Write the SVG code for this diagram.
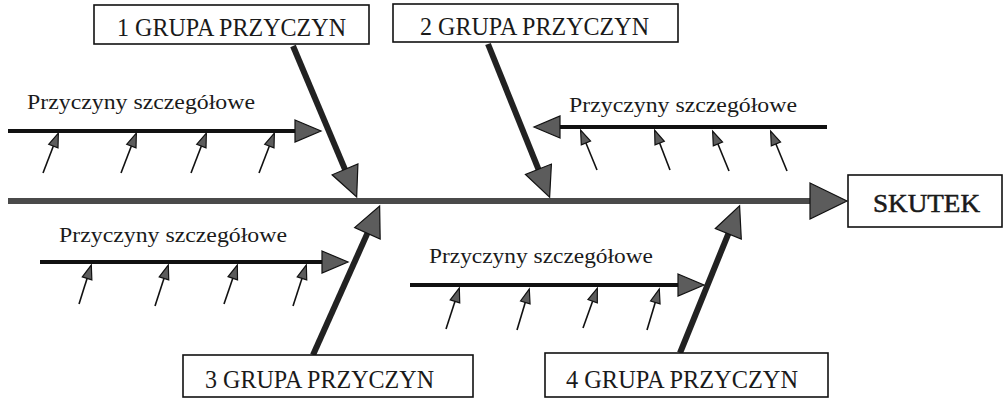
<svg xmlns="http://www.w3.org/2000/svg" width="1008" height="399" viewBox="0 0 1008 399">
<style>
  .box{fill:#fff;stroke:#111;stroke-width:1.6}
  .lbl{font-family:"Liberation Serif","Times New Roman",serif;fill:#1a1a1a}
  .grp{font-size:24.5px}
  .det{font-size:22px}
  .spine{stroke:#4a4a4a;stroke-width:6;fill:none}
  .garrow{stroke:#222;stroke-width:6;fill:none}
  .branch{stroke:#111;stroke-width:4;fill:none}
  .small{stroke:#111;stroke-width:1.6;fill:none}
  .head{fill:#5c5c5c;stroke:#111;stroke-width:1.2;stroke-linejoin:miter}
</style>
<defs>
  <marker id="mSpine" markerUnits="userSpaceOnUse" markerWidth="37" markerHeight="36" refX="1" refY="18" orient="auto" overflow="visible">
    <path class="head" d="M0,0 L37,18 L0,36 z"/>
  </marker>
  <marker id="mGroup" markerUnits="userSpaceOnUse" markerWidth="30" markerHeight="28" refX="1" refY="14" orient="auto" overflow="visible">
    <path class="head" d="M0,0 L30,14 L0,28 z"/>
  </marker>
  <marker id="mBranch" markerUnits="userSpaceOnUse" markerWidth="26" markerHeight="22" refX="1" refY="11" orient="auto" overflow="visible">
    <path class="head" d="M0,0 L26,11 L0,22 z"/>
  </marker>
  <marker id="mSmall" markerUnits="userSpaceOnUse" markerWidth="14" markerHeight="10" refX="13" refY="5" orient="auto" overflow="visible">
    <path class="head" d="M0,0 L14,5 L0,10 z" stroke-width="0.8"/>
  </marker>
</defs>

<g id="connectors">
  <line class="spine" x1="8" y1="201" x2="811" y2="201" marker-end="url(#mSpine)"/>
  <line class="garrow" x1="293" y1="46" x2="345.4" y2="170.3" marker-end="url(#mGroup)"/>
  <line class="garrow" x1="488" y1="44" x2="538.8" y2="170.2" marker-end="url(#mGroup)"/>
  <line class="garrow" x1="313" y1="355" x2="367.8" y2="232.4" marker-end="url(#mGroup)"/>
  <line class="garrow" x1="680" y1="353" x2="728.7" y2="232.8" marker-end="url(#mGroup)"/>

  <line class="branch" x1="8" y1="131" x2="296" y2="131" marker-end="url(#mBranch)"/>
  <line class="branch" x1="827" y1="127" x2="559" y2="127" marker-end="url(#mBranch)"/>
  <line class="branch" x1="40" y1="262" x2="323" y2="262" marker-end="url(#mBranch)"/>
  <line class="branch" x1="410" y1="285" x2="679" y2="285" marker-end="url(#mBranch)"/>

  <line class="small" x1="43" y1="173" x2="58" y2="134" marker-end="url(#mSmall)"/>
  <line class="small" x1="121" y1="173" x2="136" y2="134" marker-end="url(#mSmall)"/>
  <line class="small" x1="191" y1="173" x2="206" y2="134" marker-end="url(#mSmall)"/>
  <line class="small" x1="259" y1="173" x2="274" y2="134" marker-end="url(#mSmall)"/>

  <line class="small" x1="597" y1="170" x2="581" y2="131" marker-end="url(#mSmall)"/>
  <line class="small" x1="670" y1="170" x2="655" y2="131" marker-end="url(#mSmall)"/>
  <line class="small" x1="729" y1="171" x2="713" y2="132" marker-end="url(#mSmall)"/>
  <line class="small" x1="787" y1="171" x2="771" y2="132" marker-end="url(#mSmall)"/>

  <line class="small" x1="79" y1="304" x2="91" y2="266" marker-end="url(#mSmall)"/>
  <line class="small" x1="155" y1="306" x2="168" y2="266" marker-end="url(#mSmall)"/>
  <line class="small" x1="224" y1="304" x2="237" y2="266" marker-end="url(#mSmall)"/>
  <line class="small" x1="293" y1="306" x2="306" y2="266" marker-end="url(#mSmall)"/>

  <line class="small" x1="446" y1="329" x2="459" y2="289" marker-end="url(#mSmall)"/>
  <line class="small" x1="517" y1="330" x2="529" y2="290" marker-end="url(#mSmall)"/>
  <line class="small" x1="583" y1="328" x2="597" y2="289" marker-end="url(#mSmall)"/>
  <line class="small" x1="647" y1="330" x2="659" y2="290" marker-end="url(#mSmall)"/>
</g>

<g id="group1">
  <rect class="box" x="94" y="5" width="275" height="39"/>
  <text class="lbl grp" x="117" y="36" textLength="229" lengthAdjust="spacingAndGlyphs">1 GRUPA PRZYCZYN</text>
</g>
<g id="group2">
  <rect class="box" x="393" y="4" width="285" height="38"/>
  <text class="lbl grp" x="420" y="35" textLength="229" lengthAdjust="spacingAndGlyphs">2 GRUPA PRZYCZYN</text>
</g>
<g id="group3">
  <rect class="box" x="183" y="355" width="290" height="42"/>
  <text class="lbl grp" x="205" y="388" textLength="229" lengthAdjust="spacingAndGlyphs">3 GRUPA PRZYCZYN</text>
</g>
<g id="group4">
  <rect class="box" x="545" y="353" width="283" height="44"/>
  <text class="lbl grp" x="566" y="388" textLength="232" lengthAdjust="spacingAndGlyphs">4 GRUPA PRZYCZYN</text>
</g>
<g id="effect">
  <rect class="box" x="848" y="175" width="154" height="52"/>
  <text class="lbl" x="873" y="212" font-size="25" stroke="#1a1a1a" stroke-width="0.5" textLength="107" lengthAdjust="spacingAndGlyphs">SKUTEK</text>
</g>

<g id="details1">
  <text class="lbl det" x="27" y="109" textLength="228" lengthAdjust="spacingAndGlyphs">Przyczyny szczegółowe</text>
</g>
<g id="details2">
  <text class="lbl det" x="569" y="112" textLength="228" lengthAdjust="spacingAndGlyphs">Przyczyny szczegółowe</text>
</g>
<g id="details3">
  <text class="lbl det" x="59" y="242" textLength="228" lengthAdjust="spacingAndGlyphs">Przyczyny szczegółowe</text>
</g>
<g id="details4">
  <text class="lbl det" x="429" y="263" textLength="224" lengthAdjust="spacingAndGlyphs">Przyczyny szczegółowe</text>
</g>
</svg>
